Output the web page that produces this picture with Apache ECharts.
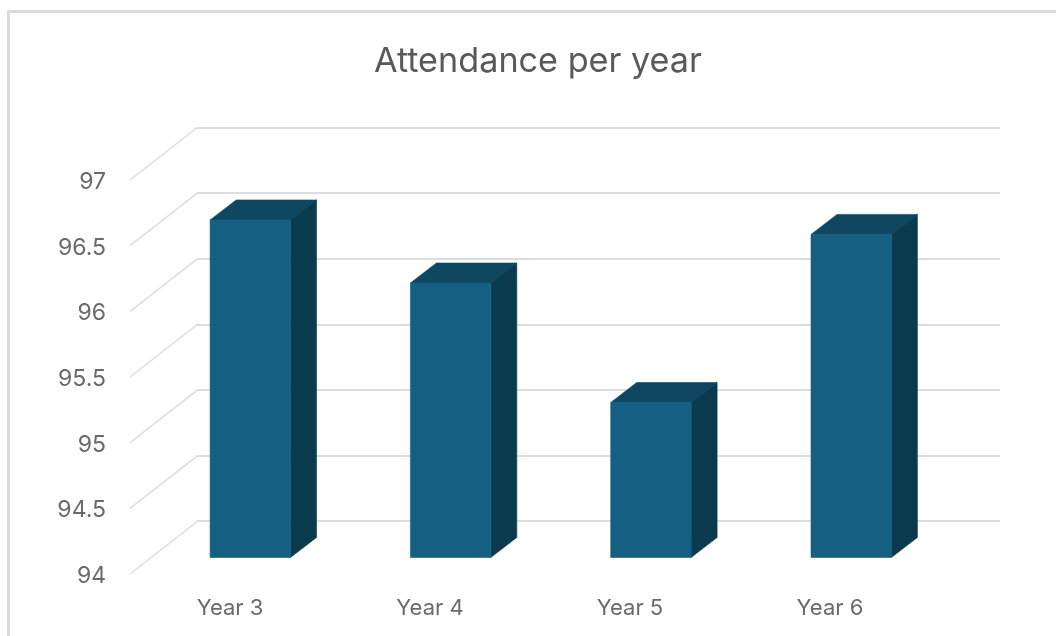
<!DOCTYPE html>
<html><head><meta charset="utf-8">
<style>html,body{margin:0;padding:0;background:#fff;overflow:hidden}#c{width:1056px;height:636px;filter:blur(0.5px)}</style>
<script src="https://cdn.jsdelivr.net/npm/echarts@6/dist/echarts.min.js"></script>
</head><body><div id="c"></div>
<script>
const titleText = 'Attendance per year';
const categories = ['Year 3', 'Year 4', 'Year 5', 'Year 6'];
const attendance = [96.57, 96.09, 95.18, 96.46];
const yTicks = [94, 94.5, 95, 95.5, 96, 96.5, 97];

// depth of the 3D floor, and where a bar sits inside it
const DX = 68, DY = -53;
const BAR_OFFSET_X = 20.3, BAR_OFFSET_Y = -16.5, BAR_HALF = 40.2, BAR_DX = 26, BAR_DY = -20, BAR_DRIFT = 0.3;
const FONT = 'Inter';

const chart = echarts.init(document.getElementById('c'), null, {renderer: 'canvas'});
chart.setOption({
  animation: false,
  backgroundColor: '#fff',
  title: {
    text: titleText, left: 369, top: 40,
    textStyle: {fontFamily: FONT, fontSize: 34.2, fontWeight: 'normal', color: '#595959'}
  },
  graphic: [{
    type: 'polyline', silent: true,
    shape: {points: [[8.5, 636], [8.5, 11.5], [1056, 11.5]]},
    style: {stroke: '#dcdcdc', lineWidth: 3, fill: 'none'}
  }],
  grid: [
    {left: 130, top: 180, width: 800, height: 394},
    {left: 197, top: 127.5, width: 803, height: 393.5},
    {left: 130, top: 182, width: 800, height: 394}
  ],
  xAxis: [
    {type: 'category', gridIndex: 0, data: categories,
     axisLine: {show: false}, axisTick: {show: false},
     axisLabel: {margin: 23, fontFamily: FONT, fontSize: 22, color: '#6a6a6a'}},
    {type: 'category', gridIndex: 1, data: categories,
     axisLine: {show: false}, axisTick: {show: false}, axisLabel: {show: false}},
    {type: 'category', gridIndex: 2, data: categories,
     axisLine: {show: false}, axisTick: {show: false}, axisLabel: {show: false}}
  ],
  yAxis: [
    {type: 'value', gridIndex: 0, min: 94, max: 97, interval: 0.5,
     axisLine: {show: false}, axisTick: {show: false}, splitLine: {show: false}, axisLabel: {show: false}},
    {type: 'value', gridIndex: 1, min: 94, max: 97, interval: 0.5,
     axisLine: {show: false}, axisTick: {show: false}, axisLabel: {show: false},
     splitLine: {show: true, lineStyle: {color: '#dddddd', width: 2}}},
    {type: 'value', gridIndex: 2, min: 94, max: 97, interval: 0.5,
     axisLine: {show: false}, axisTick: {show: false}, splitLine: {show: false},
     axisLabel: {margin: 24, fontFamily: FONT, fontSize: 23, color: '#6a6a6a'}}
  ],
  series: [
    {
      type: 'custom', xAxisIndex: 0, yAxisIndex: 0, silent: true, z: 2,
      data: yTicks.map(v => [0, v]),
      encode: {x: 0, y: 1},
      renderItem(params, api) {
        const y = api.coord([0, api.value(1)])[1];
        const x = params.coordSys.x;
        return {type: 'line', shape: {x1: x, y1: y, x2: x + DX, y2: y + DY},
                style: {stroke: '#dddddd', lineWidth: 1.5}};
      }
    },
    {
      type: 'custom', name: 'Attendance', xAxisIndex: 0, yAxisIndex: 0, silent: true, z: 3,
      data: attendance.map((v, i) => [i, v]),
      encode: {x: 0, y: 1},
      renderItem(params, api) {
        const c = api.coord([api.value(0), 94]);
        const t = api.coord([api.value(0), api.value(1)]);
        const cx = c[0] + BAR_OFFSET_X + api.value(0) * BAR_DRIFT;
        const x0 = cx - BAR_HALF, x1 = cx + BAR_HALF;
        const yb = c[1] + BAR_OFFSET_Y, yt = t[1] + BAR_OFFSET_Y;
        const poly = (points, fill) => ({type: 'polygon', shape: {points}, style: {fill, stroke: fill, lineWidth: 0.6}});
        return {type: 'group', children: [
          poly([[x0, yt], [x1, yt], [x1 + BAR_DX, yt + BAR_DY], [x0 + BAR_DX, yt + BAR_DY]], '#0f4761'),
          poly([[x1, yt], [x1 + BAR_DX, yt + BAR_DY], [x1 + BAR_DX, yb + BAR_DY], [x1, yb]], '#0a3a4e'),
          poly([[x0, yt], [x1, yt], [x1, yb], [x0, yb]], '#156082')
        ]};
      }
    }
  ]
});
</script></body></html>
